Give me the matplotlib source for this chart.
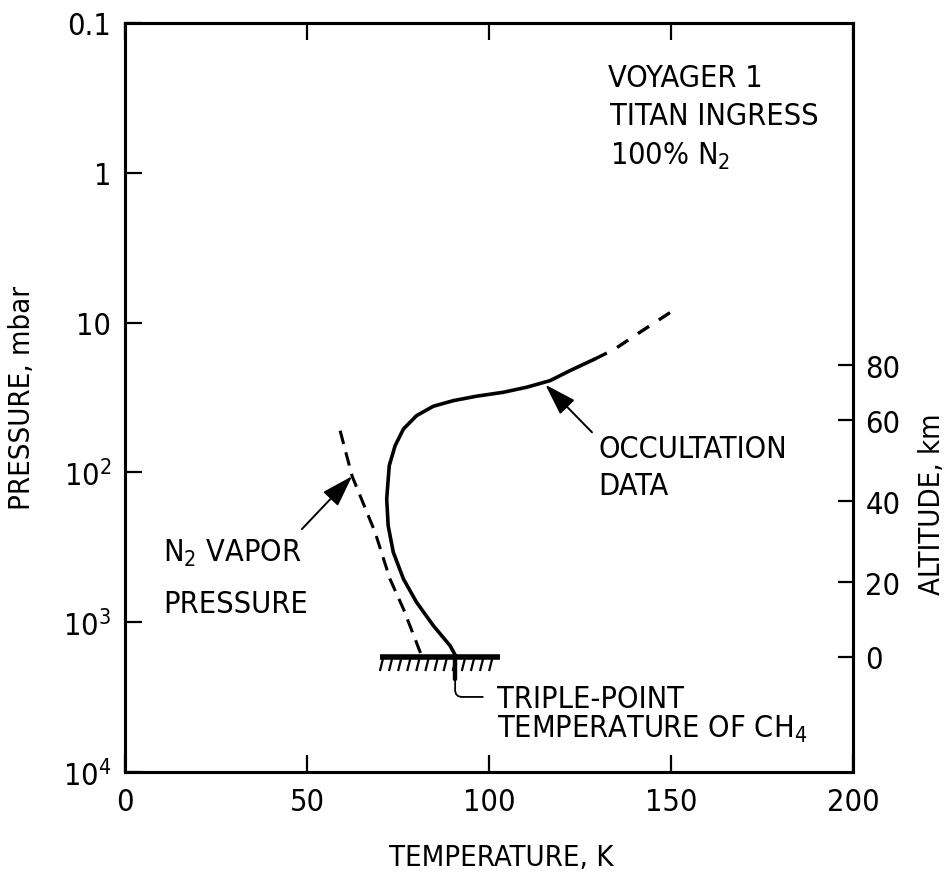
import numpy as np
import matplotlib
matplotlib.use("Agg")
import matplotlib.pyplot as plt
from matplotlib.ticker import NullLocator, FixedLocator, FixedFormatter

plt.rcParams['font.family'] = ['DejaVu Sans']
plt.rcParams['font.stretch'] = 'condensed'
plt.rcParams['mathtext.fontset'] = 'custom'
plt.rcParams['mathtext.rm'] = 'DejaVu Sans:stretch=condensed'
plt.rcParams['mathtext.it'] = 'DejaVu Sans:stretch=condensed'

# Voyager 1 ingress temperature profile (K vs mbar)
occ_temp = [91.0, 89.3, 84.7, 80.1, 76.5, 73.7, 72.3, 71.9, 72.1, 72.6,
            74.2, 76.5, 80.1, 84.7, 90.2, 96.6, 103.9, 110.4, 116.8, 122.3, 129.1]
occ_pres = [1706, 1435, 1054, 736, 515, 341, 227, 151, 129, 90.2,
            66.4, 51.3, 41.8, 36.2, 33.2, 31.0, 29.2, 27.0, 24.4, 20.9, 17.5]
# extrapolated upper part (dashed)
ext_temp = [129.1, 134.6, 140.1, 150.5]
ext_pres = [17.5, 15.0, 12.2, 8.34]

# N2 saturation vapor pressure curve
n2_temp = [59.1, 62.4, 68.7, 72.8, 76.5, 81.6]
n2_pres = [52.7, 106, 251, 515, 817, 1706]

# surface and CH4 triple point
surface_pres = 1706
surface_temp = [70.0, 103.0]
triple_point_temp = 90.7

# altitude scale on the right
alt_km = [0, 20, 40, 60, 80]
alt_pres = [1706, 540, 156, 45, 19.2]

temp_ticks = [0, 50, 100, 150, 200]
pres_ticks = [0.1, 1, 10, 100, 1000, 10000]
pres_labels = ['0.1', '1', '10', r'$10^2$', r'$10^3$', r'$10^4$']

fig = plt.figure(figsize=(9.52, 8.78), dpi=100)
ax = fig.add_axes([0.1313, 0.1196, 0.7647, 0.8531])

ax.set_yscale('log')
ax.set_xlim(0, 200)
ax.set_ylim(1e4, 0.1)

ax.plot(occ_temp, occ_pres, color='black', lw=2.6, solid_capstyle='round',
        solid_joinstyle='round')
ax.plot(ext_temp, ext_pres, color='black', lw=2.4, dashes=(4.0, 3.5))
ax.plot(n2_temp, n2_pres, color='black', lw=2.2, dashes=(4.5, 2.8))

# ground line with hatching
ax.plot(surface_temp, [surface_pres] * 2, color='black', lw=4.0, solid_capstyle='butt')
hatch_drop = 10 ** (13 / 149.8)
for t in np.arange(surface_temp[0] + 1.0, surface_temp[1], 2.5):
    ax.plot([t, t - 0.9], [surface_pres, surface_pres * hatch_drop],
            color='black', lw=1.6)

# triple-point marker and bracket to its label
ax.plot([triple_point_temp] * 2, [surface_pres, surface_pres * 10 ** (22 / 149.8)],
        color='black', lw=3.2, solid_capstyle='round')
ax.annotate('', xy=(triple_point_temp, surface_pres * 10 ** (24 / 149.8)),
            xytext=(98.3, 3155),
            arrowprops=dict(arrowstyle='-', lw=1.3, color='black',
                            connectionstyle='angle,angleA=0,angleB=90,rad=7',
                            shrinkA=0, shrinkB=0))

arrow_kw = dict(arrowstyle='-|>,head_length=1.4,head_width=0.45', lw=1.4,
                color='black', mutation_scale=14, shrinkA=0, shrinkB=0)
ax.annotate('', xy=(62.4, 106), xytext=(48.6, 239), arrowprops=arrow_kw)
ax.annotate('', xy=(115.5, 26.0), xytext=(128.3, 54), arrowprops=arrow_kw)

txt = dict(transform=ax.transAxes, fontsize=22, ha='left', va='baseline')
ax.text(0.663, 0.916, 'VOYAGER 1', **txt)
ax.text(0.666, 0.865, 'TITAN INGRESS', **txt)
ax.text(0.666, 0.812, r'100% N$_2$', **txt)
ax.text(0.650, 0.421, 'OCCULTATION', **txt)
ax.text(0.650, 0.371, 'DATA', **txt)
ax.text(0.052, 0.282, r'N$_2$ VAPOR', **txt)
ax.text(0.052, 0.2136, 'PRESSURE', **txt)
ax.text(0.511, 0.0868, 'TRIPLE-POINT', **txt)
ax.text(0.511, 0.0467, r'TEMPERATURE OF CH$_4$', **txt)

# axes styling
for sp in ax.spines.values():
    sp.set_linewidth(2.2)

ax.set_xticks(temp_ticks)
ax.set_xticklabels([str(t) for t in temp_ticks])
ax.yaxis.set_major_locator(FixedLocator(pres_ticks))
ax.yaxis.set_major_formatter(FixedFormatter(pres_labels))
ax.yaxis.set_minor_locator(NullLocator())
ax.tick_params(axis='both', direction='in', length=12, width=1.6,
               labelsize=22, top=True, right=False)
ax.tick_params(axis='x', pad=11)
ax.tick_params(axis='y', pad=10)

ax2 = ax.twinx()
ax2.set_yscale('log')
ax2.set_ylim(ax.get_ylim())
ax2.yaxis.set_major_locator(FixedLocator(alt_pres))
ax2.yaxis.set_major_formatter(FixedFormatter([str(a) for a in alt_km]))
ax2.yaxis.set_minor_locator(NullLocator())
ax2.tick_params(axis='y', direction='in', length=11, width=1.6,
                labelsize=22, pad=9)
for sp in ax2.spines.values():
    sp.set_linewidth(2.2)

ax.set_xlabel('TEMPERATURE, K', fontsize=21)
ax.xaxis.set_label_coords(0.5165, -0.095)
ax.set_ylabel('PRESSURE, mbar', fontsize=21)
ax.yaxis.set_label_coords(-0.122, 0.5)
ax2.set_ylabel('ALTITUDE, km', fontsize=21, rotation=90, va='top')
ax2.yaxis.set_label_coords(1.089, 0.359)

fig.savefig('out.png', dpi=100)
